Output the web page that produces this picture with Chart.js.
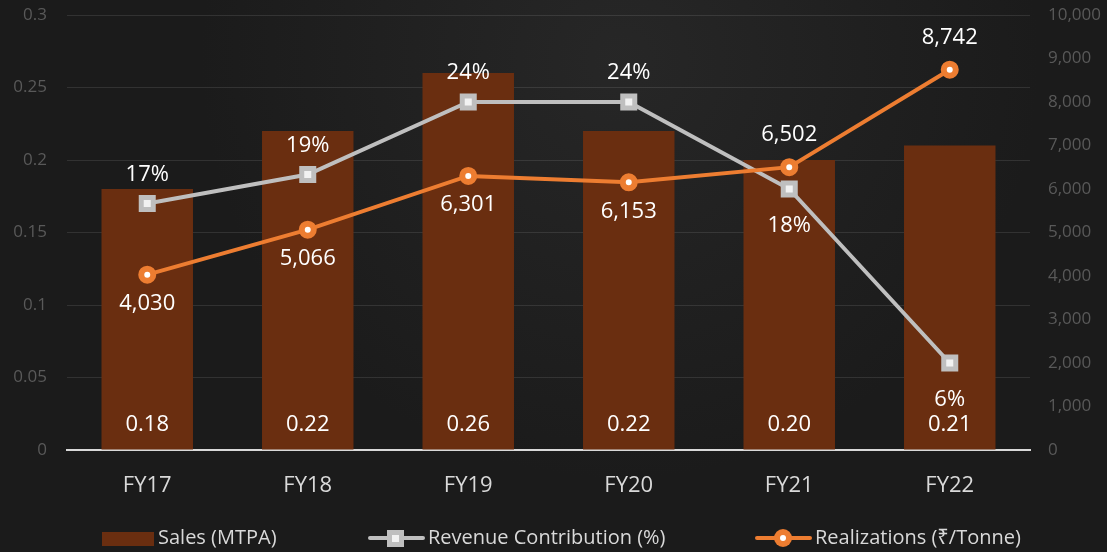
<!DOCTYPE html>
<html>
<head>
<meta charset="utf-8">
<script src="https://cdn.jsdelivr.net/npm/chart.js@4.4.1/dist/chart.umd.min.js"></script>
<style>
    html, body { margin: 0; padding: 0; background: #1b1b1b; }
    #wrap { width: 1107px; height: 552px; }
</style>
</head>
<body>
<div id="wrap"><canvas id="chart"></canvas></div>
<script>
// data
var years = ['FY17', 'FY18', 'FY19', 'FY20', 'FY21', 'FY22'];
var sales = [0.18, 0.22, 0.26, 0.22, 0.20, 0.21];
var revenueShare = [0.17, 0.19, 0.24, 0.24, 0.18, 0.06];
var realizations = [4030, 5066, 6301, 6153, 6502, 8742];
// where each line label sits: 1 = above point, -1 = below
var revenueLabelSide = [1, 1, 1, 1, -1, -1];
var realizLabelSide = [-1, -1, -1, -1, 1, 1];

var FONT = '"Open Sans", "Noto Sans", sans-serif';
var BROWN = '#6a2e10';
var GREY = '#bfbfbf';
var ORANGE = '#ed7d31';

function fmtNum(v) {
    return v.toLocaleString('en-US');
}

var bgPlugin = {
    id: 'bg',
    beforeDraw: function(chart) {
        var c = chart.ctx;
        c.save();
        c.fillStyle = '#1b1b1b';
        c.fillRect(0, 0, chart.width, chart.height);
        var g = c.createRadialGradient(620, 60, 10, 620, 60, 420);
        g.addColorStop(0, 'rgba(60,60,60,0.35)');
        g.addColorStop(1, 'rgba(60,60,60,0)');
        c.fillStyle = g;
        c.fillRect(0, 0, chart.width, chart.height);
        c.restore();
    }
};

var labelPlugin = {
    id: 'valueLabels',
    afterDatasetsDraw: function(chart) {
        var c = chart.ctx;
        c.save();
        c.font = '22px ' + FONT;
        c.fillStyle = '#ffffff';
        c.textAlign = 'center';
        c.textBaseline = 'middle';
        var yBase = chart.scales.y.getPixelForValue(0);

        chart.getDatasetMeta(0).data.forEach(function(bar, i) {
            c.fillText(sales[i].toFixed(2), bar.x, yBase - 25);
        });
        chart.getDatasetMeta(1).data.forEach(function(pt, i) {
            var off = revenueLabelSide[i] > 0 ? -29 : 37;
            c.fillText(Math.round(revenueShare[i] * 100) + '%', pt.x, pt.y + off);
        });
        chart.getDatasetMeta(2).data.forEach(function(pt, i) {
            var off = realizLabelSide[i] > 0 ? -32 : 29;
            c.fillText(fmtNum(realizations[i]), pt.x, pt.y + off);
        });
        c.restore();
    }
};

// legend drawn by hand so it can show line + marker icons
var legendPlugin = {
    id: 'customLegend',
    afterDraw: function(chart) {
        var c = chart.ctx;
        var y = 538;
        c.save();
        c.font = '20px ' + FONT;
        c.textBaseline = 'middle';
        c.textAlign = 'left';

        // sales box
        c.fillStyle = BROWN;
        c.fillRect(102, y - 6, 52, 14);
        c.fillStyle = '#d9d9d9';
        c.fillText(chart.data.datasets[0].label, 158, y);

        // revenue line with square
        c.strokeStyle = GREY;
        c.lineWidth = 4;
        c.lineCap = 'round';
        c.beginPath();
        c.moveTo(370, y);
        c.lineTo(423, y);
        c.stroke();
        c.fillStyle = GREY;
        c.fillRect(387, y - 8, 17, 17);
        c.fillStyle = '#f2f2f2';
        c.fillRect(392, y - 3, 7, 7);
        c.fillStyle = '#d9d9d9';
        c.fillText(chart.data.datasets[1].label, 428, y);

        // realizations line with circle
        c.strokeStyle = ORANGE;
        c.beginPath();
        c.moveTo(757, y);
        c.lineTo(810, y);
        c.stroke();
        c.fillStyle = ORANGE;
        c.beginPath();
        c.arc(783, y, 9, 0, Math.PI * 2);
        c.fill();
        c.fillStyle = '#ffffff';
        c.beginPath();
        c.arc(783, y, 3, 0, Math.PI * 2);
        c.fill();
        c.fillStyle = '#d9d9d9';
        c.fillText(chart.data.datasets[2].label, 815, y);
        c.restore();
    }
};

function fixSide(width) {
    return function(s) {
        s.width = width;
        s.paddingTop = 0;
        s.paddingBottom = 0;
    };
}

var ctx = document.getElementById('chart').getContext('2d');
var chart = new Chart(ctx, {
    type: 'bar',
    data: {
        labels: years,
        datasets: [{
            type: 'bar',
            label: 'Sales (MTPA)',
            data: sales,
            backgroundColor: BROWN,
            categoryPercentage: 1,
            barPercentage: 0.57,
            yAxisID: 'y',
            order: 3
        }, {
            type: 'line',
            label: 'Revenue Contribution (%)',
            data: revenueShare,
            borderColor: GREY,
            borderWidth: 4,
            pointStyle: 'rect',
            pointRadius: 8.5,
            pointBorderWidth: 5,
            pointBackgroundColor: '#f2f2f2',
            pointBorderColor: GREY,
            yAxisID: 'y',
            order: 2
        }, {
            type: 'line',
            label: 'Realizations (₹/Tonne)',
            data: realizations,
            borderColor: ORANGE,
            borderWidth: 4,
            pointStyle: 'circle',
            pointRadius: 6,
            pointBorderWidth: 6,
            pointBackgroundColor: '#ffffff',
            pointBorderColor: ORANGE,
            yAxisID: 'y1',
            order: 1
        }]
    },
    options: {
        responsive: true,
        maintainAspectRatio: false,
        animation: false,
        layout: { padding: { top: 15, bottom: 42, left: 0, right: 0 } },
        plugins: {
            legend: { display: false },
            tooltip: { enabled: false }
        },
        scales: {
            x: {
                grid: { display: false, drawTicks: false },
                border: { display: true, color: '#d9d9d9', width: 2 },
                ticks: { color: '#d9d9d9', font: { family: FONT, size: 22 }, padding: 23 },
                afterFit: function(s) { s.height = 60; }
            },
            y: {
                position: 'left',
                min: 0,
                max: 0.3,
                grid: { color: 'rgba(255,255,255,0.1)', lineWidth: 1, drawTicks: false },
                border: { display: false },
                ticks: {
                    stepSize: 0.05,
                    color: '#595959',
                    font: { family: FONT, size: 17 },
                    padding: 20,
                    callback: function(v) { return String(Math.round(v * 100) / 100); }
                },
                afterFit: fixSide(67)
            },
            y1: {
                position: 'right',
                min: 0,
                max: 10000,
                grid: { display: false, drawTicks: false },
                border: { display: false },
                ticks: {
                    stepSize: 1000,
                    color: '#595959',
                    font: { family: FONT, size: 17 },
                    padding: 18,
                    callback: function(v) { return fmtNum(v); }
                },
                afterFit: fixSide(77)
            }
        }
    },
    plugins: [bgPlugin, labelPlugin, legendPlugin]
});
</script>
</body>
</html>
